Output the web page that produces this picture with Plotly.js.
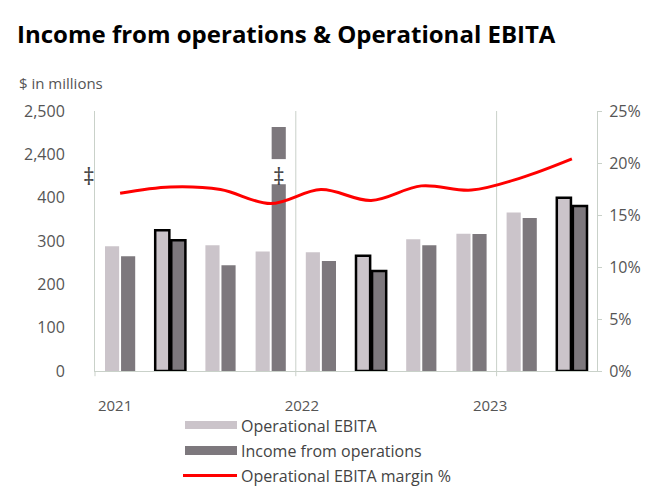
<!DOCTYPE html>
<html>
<head>
<meta charset="utf-8">
<script src="https://cdn.plot.ly/plotly-3.0.1.min.js"></script>
<style>html,body{margin:0;padding:0;background:#fff;}#chart{width:669px;height:492px;}</style>
</head>
<body>
<div id="chart"></div>
<script>
// ---- data ----
const quarters = ['Q1 2021','Q2 2021','Q3 2021','Q4 2021','Q1 2022','Q2 2022','Q3 2022','Q4 2022','Q1 2023','Q2 2023'];
const operationalEBITA = [288, 325, 290, 276, 274, 266, 304, 317, 366, 401];
const incomeFromOperations = [265, 302, 244, 2463, 254, 231, 290, 316, 353, 381];
const ebitaMarginPct = [17.1, 17.7, 17.45, 16.1, 17.45, 16.4, 17.8, 17.4, 18.6, 20.4];
const highlighted = [false, true, false, false, false, true, false, false, false, true];
const yearLabels = ['2021', '2022', '2023'];
const leftTickValues = [0, 100, 200, 300, 400, 2400, 2500];
const leftTickLabels = ['0', '100', '200', '300', '400', '2,400', '2,500'];
const rightTickValues = [0, 5, 10, 15, 20, 25];
const rightTickLabels = ['0%', '5%', '10%', '15%', '20%', '25%'];

// ---- broken axis: 400 .. 2400 compressed into one tick interval ----
const BREAK_LO = 400, BREAK_HI = 2400;
function disp(v) {
  if (v <= BREAK_LO) return v;
  if (v >= BREAK_HI) return v - BREAK_HI + BREAK_LO + 100;
  return BREAK_LO + (v - BREAK_LO) / (BREAK_HI - BREAK_LO) * 100;
}

const xIdx = quarters.map((q, i) => i);
const lightColor = '#cbc4ca';
const darkColor = '#7d787d';
const axisColor = '#c9d1c9';
const textColor = '#555555';
const FONT = 'Open Sans, Liberation Sans, sans-serif';

const traces = [
  {
    type: 'bar', name: 'Operational EBITA', x: xIdx, y: operationalEBITA.map(disp),
    customdata: operationalEBITA, hovertemplate: '%{customdata}<extra></extra>',
    marker: { color: lightColor, line: { color: '#000', width: highlighted.map(h => h ? 2.5 : 0) } }
  },
  {
    type: 'bar', name: 'Income from operations', x: xIdx, y: incomeFromOperations.map(disp),
    customdata: incomeFromOperations, hovertemplate: '%{customdata}<extra></extra>',
    marker: { color: darkColor, line: { color: '#000', width: highlighted.map(h => h ? 2.5 : 0) } }
  },
  {
    type: 'scatter', mode: 'lines', name: 'Operational EBITA margin %', x: xIdx, y: ebitaMarginPct,
    yaxis: 'y2', line: { color: '#ff0000', width: 3, shape: 'spline', smoothing: 1 }
  }
];

// year positions (label anchors) and year boundaries
const yearTickPos = [-0.1, 3.62, 7.37];
const yearBoundaries = [3.5, 7.5];

const shapes = yearBoundaries.map(b => ({
  type: 'line', xref: 'x', yref: 'paper', x0: b, x1: b, y0: -0.02, y1: 1,
  line: { color: axisColor, width: 1 }, layer: 'below'
}));
shapes.push({ type: 'line', xref: 'paper', yref: 'paper', x0: 0, x1: 0, y0: -0.02, y1: 0, line: { color: axisColor, width: 1 } });

const annotations = [];
incomeFromOperations.forEach((v, i) => {
  if (v >= BREAK_HI) {
    shapes.push({ type: 'rect', xref: 'x', yref: 'y', x0: i + 0.0, x1: i + 0.34, y0: 431, y1: 489,
      fillcolor: '#ffffff', line: { width: 0 }, layer: 'above' });
    annotations.push({ xref: 'x', yref: 'y', x: i + 0.16, y: 449, xanchor: 'center', text: '‡', showarrow: false,
      font: { family: FONT, size: 23, color: '#444' } });
  }
});
annotations.push({ xref: 'paper', yref: 'y', x: (89 - 95) / 502, y: 449, xanchor: 'center', text: '‡', showarrow: false,
  font: { family: FONT, size: 23, color: '#444' } });

annotations.push({ xref: 'paper', yref: 'paper', x: (15 - 95) / 502, y: (371 - 33) / 260.3, xanchor: 'left', yanchor: 'middle',
  text: '<b>Income from operations & Operational EBITA</b>', showarrow: false,
  font: { family: FONT, size: 24, color: '#000' } });
annotations.push({ xref: 'paper', yref: 'paper', x: (17 - 95) / 502, y: (371 - 83) / 260.3, xanchor: 'left', yanchor: 'middle',
  text: '$ in millions', showarrow: false, font: { family: FONT, size: 15, color: textColor } });

// custom legend
const px = p => (p - 95) / 502;
const py = p => (371 - p) / 260.3;
shapes.push({ type: 'rect', xref: 'paper', yref: 'paper', x0: px(185), x1: px(237), y0: py(421), y1: py(429), fillcolor: lightColor, line: { width: 0 } });
shapes.push({ type: 'rect', xref: 'paper', yref: 'paper', x0: px(185), x1: px(237), y0: py(446), y1: py(455), fillcolor: darkColor, line: { width: 0 } });
shapes.push({ type: 'line', xref: 'paper', yref: 'paper', x0: px(183), x1: px(237), y0: py(475.7), y1: py(475.7), line: { color: '#ff0000', width: 3 } });
[[traces[0].name, 426], [traces[1].name, 451.5], [traces[2].name, 476.5]].forEach(([t, y]) => {
  annotations.push({ xref: 'paper', yref: 'paper', x: px(239), y: py(y), xanchor: 'left', yanchor: 'middle',
    text: t, showarrow: false, font: { family: FONT, size: 16, color: '#444' } });
});

const layout = {
  width: 669, height: 492,
  margin: { l: 95, r: 72, t: 111, b: 121 },
  paper_bgcolor: '#fff', plot_bgcolor: '#fff',
  showlegend: false,
  barmode: 'group', bargap: 0.36, bargroupgap: 0.12,
  font: { family: FONT, size: 15, color: textColor },
  xaxis: {
    range: [-0.5, 9.5], tickmode: 'array', tickvals: yearTickPos, ticktext: yearLabels,
    showgrid: false, zeroline: false, showline: true, linecolor: axisColor, linewidth: 1,
    ticks: '', ticklabelstandoff: 21, tickfont: { family: FONT, size: 15, color: textColor }
  },
  yaxis: {
    range: [0, 600], tickmode: 'array', tickvals: leftTickValues.map(disp), ticktext: leftTickLabels,
    showgrid: false, zeroline: false, showline: true, linecolor: axisColor, linewidth: 1,
    ticks: '', ticklabelstandoff: 26, tickfont: { family: FONT, size: 16, color: textColor }
  },
  yaxis2: {
    overlaying: 'y', side: 'right', range: [0, 25], tickmode: 'array', tickvals: rightTickValues,
    ticktext: rightTickLabels, showgrid: false, zeroline: false, showline: true, linecolor: axisColor, linewidth: 1,
    ticks: 'outside', ticklen: 4, tickcolor: axisColor, ticklabelstandoff: 4,
    tickfont: { family: FONT, size: 16, color: textColor }
  },
  shapes: shapes,
  annotations: annotations
};

Plotly.newPlot('chart', traces, layout, { displayModeBar: false, staticPlot: true });
</script>
</body>
</html>
